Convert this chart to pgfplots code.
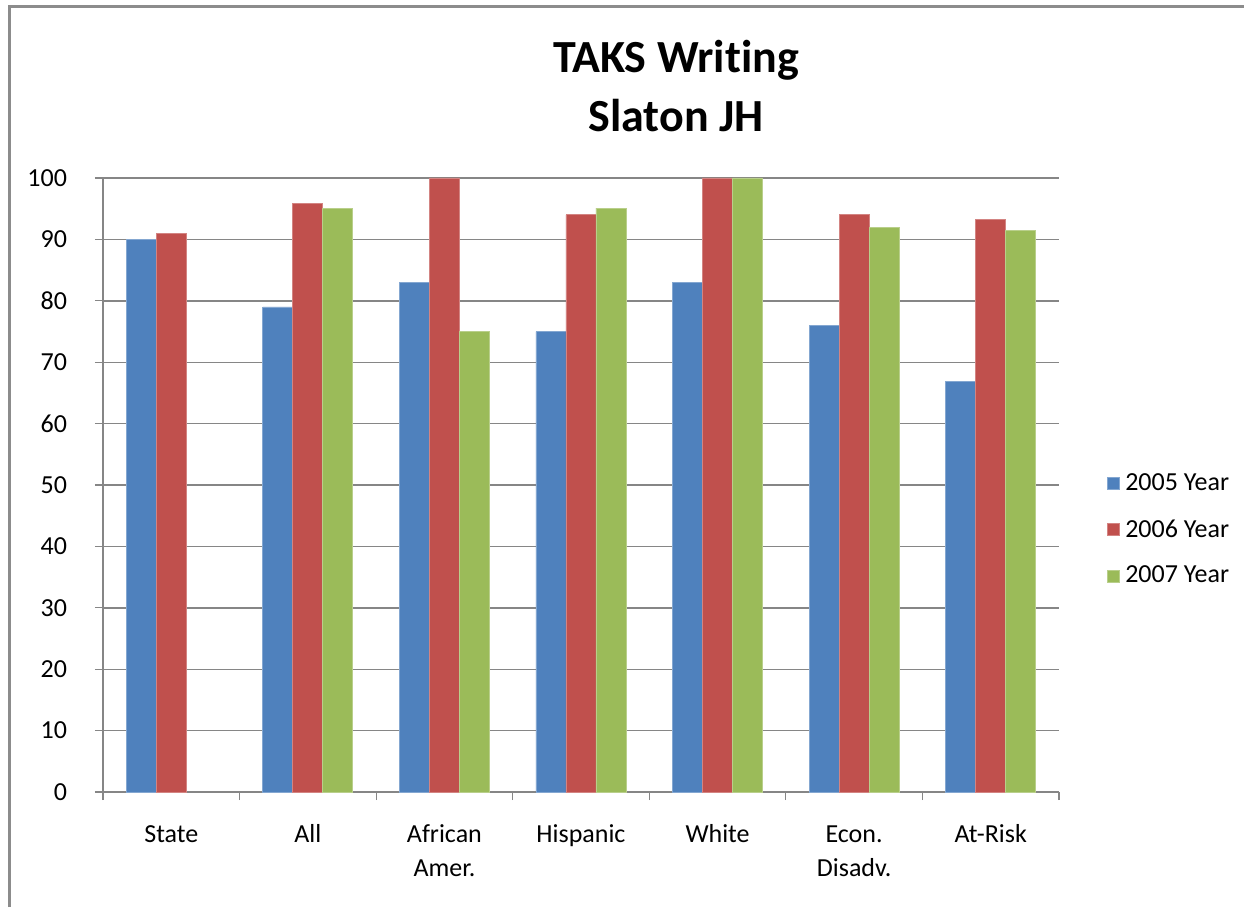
\documentclass[border=0pt]{standalone}
\usepackage{pgfplots}
\pgfplotsset{compat=1.18}
\usepackage{fontspec}
\setmainfont{Carlito}[Ligatures=CommonOff]
\definecolor{c05}{HTML}{4F81BD}
\definecolor{c06}{HTML}{C0504D}
\definecolor{c07}{HTML}{9BBB59}
\definecolor{gridc}{HTML}{868686}
\definecolor{framec}{HTML}{8C8C8C}
\begin{document}
\begin{tikzpicture}
\useasboundingbox (0pt,0pt) rectangle (622pt,453.5pt);
\begin{axis}[
    at={(51.5pt,57.5pt)}, anchor=south west,
    width=478pt, height=307pt, scale only axis,
    ybar=0pt, bar width=15pt,
    xmin=-0.5, xmax=6.5,
    ymin=0, ymax=100,
    ytick={0,10,...,100},
    xtick={0,...,6},
    xticklabels={\strut State, \strut All, \strut African\\Amer., \strut Hispanic, \strut White, \strut Econ.\\Disadv., \strut At-Risk},
    minor xtick={-0.5,0.5,...,6.5},
    major x tick style={draw=none},
    tick align=outside,
    major tick length=4pt, minor tick length=4pt,
    tick style={gridc, line width=0.6pt},
    axis lines*=left,
    axis line style={gridc, line width=0.6pt},
    ymajorgrids, grid style={gridc, line width=0.7pt},
    /pgf/number format/assume math mode=true,
    ticklabel style={font=\fontsize{13}{17}\selectfont},
    xticklabel style={align=center, yshift=-6pt},
    yticklabel style={xshift=-10.5pt},
    legend style={at={(1.044,0.427)}, anchor=west, draw=none, fill=none,
        font=\fontsize{13}{15}\selectfont, row sep=9pt,
        nodes={inner xsep=2.5pt},
        legend cell align=left},
    legend image code/.code={\fill[#1] (0pt,-3pt) rectangle (6pt,3pt);},
    ]
\addplot[fill=c05, draw=c05!70!white] coordinates {(0,90) (1,79) (2,83) (3,75) (4,83) (5,76) (6,66.8)};
\addplot[fill=c06, draw=c06!70!white] coordinates {(0,90.9) (1,95.9) (2,100) (3,94) (4,100) (5,94) (6,93.2)};
\addplot[fill=c07, draw=c07!70!white] coordinates {(1,95.1) (2,75) (3,95.1) (4,100) (5,92) (6,91.5)};
\legend{2005 Year, 2006 Year, 2007 Year}
\end{axis}
\draw[line width=1.5pt, framec] (4.5pt,0pt) -- (4.5pt,450pt) -- (622pt,450pt);
\node[font=\bfseries\fontsize{23}{27}\selectfont, anchor=base] at (338pt,417pt) {TAKS Writing};
\node[font=\bfseries\fontsize{23}{27}\selectfont, anchor=base] at (338pt,387.5pt) {Slaton JH};
\end{tikzpicture}
\end{document}
